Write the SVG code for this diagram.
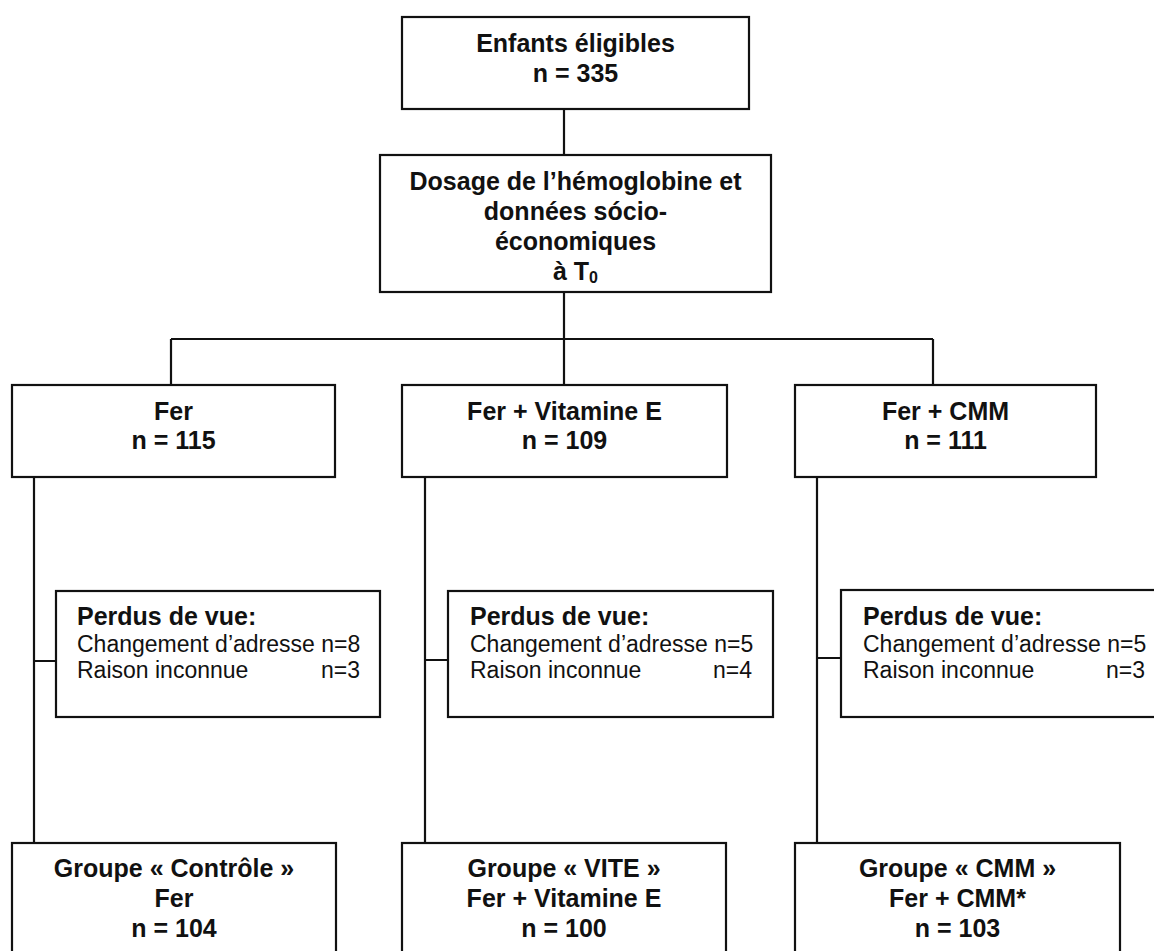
<svg xmlns="http://www.w3.org/2000/svg" width="1154" height="951" viewBox="0 0 1154 951">
<style>
.box{fill:#fff;stroke:#111;stroke-width:2.2}
.ln{fill:none;stroke:#111;stroke-width:2.2}
.b{font-family:"Liberation Sans",Arial,sans-serif;font-weight:bold;font-size:25px;fill:#111;text-anchor:middle}
.r{font-family:"Liberation Sans",Arial,sans-serif;font-size:23px;fill:#111}
.bl{font-family:"Liberation Sans",Arial,sans-serif;font-weight:bold;font-size:25px;fill:#111}
.e{text-anchor:end}
</style>
<rect width="1154" height="951" fill="#fff"/>
<g id="connectors">
<path class="ln" d="M564 109V155M564 292V339M171 339H933M171 339V385M564 339V385M933 339V385"/>
<path class="ln" d="M34 477V843M34 661H56"/>
<path class="ln" d="M425 477V843M425 660H448"/>
<path class="ln" d="M817 477V843M817 658H841"/>
</g>
<g id="n-eligibles">
<rect class="box" x="402" y="17" width="347" height="92"/>
<text class="b" x="575.5" y="52">Enfants éligibles</text>
<text class="b" x="575.5" y="82">n = 335</text>
</g>
<g id="n-dosage">
<rect class="box" x="380" y="155" width="391" height="137"/>
<text class="b" x="575.5" y="190">Dosage de l’hémoglobine et</text>
<text class="b" x="575.5" y="220">données sócio-</text>
<text class="b" x="575.5" y="250">économiques</text>
<text class="b" x="575.5" y="280">à T<tspan font-size="16" dy="3">0</tspan></text>
</g>
<g id="n-fer">
<rect class="box" x="12" y="385" width="323" height="92"/>
<text class="b" x="173.5" y="420">Fer</text>
<text class="b" x="173.5" y="449">n = 115</text>
</g>
<g id="n-fer-vite">
<rect class="box" x="402" y="385" width="325" height="92"/>
<text class="b" x="564.5" y="420">Fer + Vitamine E</text>
<text class="b" x="564.5" y="449">n = 109</text>
</g>
<g id="n-fer-cmm">
<rect class="box" x="795" y="385" width="301" height="92"/>
<text class="b" x="945.5" y="420">Fer + CMM</text>
<text class="b" x="945.5" y="449">n = 111</text>
</g>
<g id="n-perdus-fer">
<rect class="box" x="56" y="591" width="324" height="126"/>
<text class="bl" x="77" y="625">Perdus de vue:</text>
<text class="r" x="77" y="652">Changement d’adresse n=8</text>
<text class="r" x="77" y="678">Raison inconnue</text>
<text class="r e" x="360" y="678">n=3</text>
</g>
<g id="n-perdus-vite">
<rect class="box" x="448" y="591" width="325" height="126"/>
<text class="bl" x="470" y="625">Perdus de vue:</text>
<text class="r" x="470" y="652">Changement d’adresse n=5</text>
<text class="r" x="470" y="678">Raison inconnue</text>
<text class="r e" x="752" y="678">n=4</text>
</g>
<g id="n-perdus-cmm">
<rect class="box" x="841" y="590" width="326" height="127"/>
<text class="bl" x="863" y="625">Perdus de vue:</text>
<text class="r" x="863" y="652">Changement d’adresse n=5</text>
<text class="r" x="863" y="678">Raison inconnue</text>
<text class="r e" x="1145" y="678">n=3</text>
</g>
<g id="n-groupe-controle">
<rect class="box" x="12" y="843" width="324" height="120"/>
<text class="b" x="174" y="877">Groupe « Contrôle »</text>
<text class="b" x="174" y="907">Fer</text>
<text class="b" x="174" y="937">n = 104</text>
</g>
<g id="n-groupe-vite">
<rect class="box" x="402" y="843" width="324" height="120"/>
<text class="b" x="564" y="877">Groupe « VITE »</text>
<text class="b" x="564" y="907">Fer + Vitamine E</text>
<text class="b" x="564" y="937">n = 100</text>
</g>
<g id="n-groupe-cmm">
<rect class="box" x="795" y="843" width="325" height="120"/>
<text class="b" x="957.5" y="877">Groupe « CMM »</text>
<text class="b" x="957.5" y="907">Fer + CMM*</text>
<text class="b" x="957.5" y="937">n = 103</text>
</g>
</svg>
